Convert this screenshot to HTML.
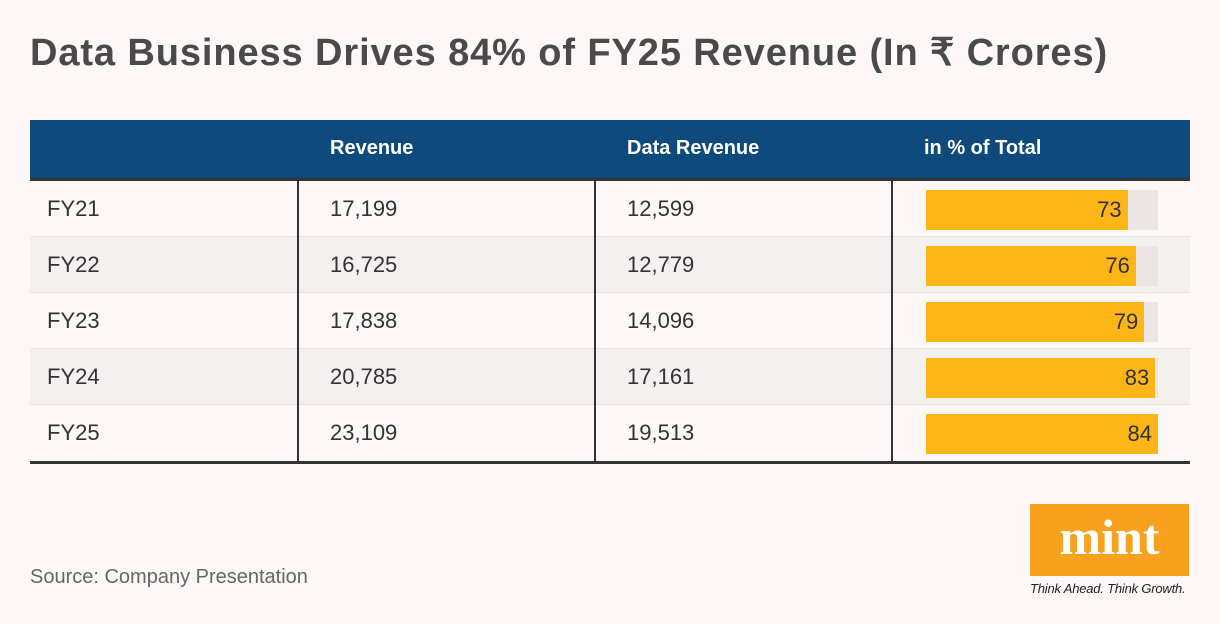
<!DOCTYPE html>
<html><head><meta charset="utf-8">
<style>
body{margin:0;width:1220px;height:624px;background:#fdf8f7;font-family:"Liberation Sans",sans-serif;position:relative;overflow:hidden}
.title{position:absolute;left:30px;top:30px;font-size:38px;font-weight:bold;color:#4a4a4a;letter-spacing:0.9px;white-space:nowrap}
.hdr{position:absolute;left:30px;top:120px;width:1160px;height:58px;background:#0e4b7c}
.hdr span{position:absolute;top:17px;color:#fff;font-weight:bold;font-size:20px}
.topline{position:absolute;left:30px;top:178px;width:1160px;height:3px;background:#333}
.row{position:absolute;left:30px;width:1160px;height:55px}
.row span{position:absolute;top:15px;font-size:22px;color:#333}
.sep{position:absolute;left:30px;width:1160px;height:2px;background:#e6e2e1}
.vl{position:absolute;top:181px;width:2px;height:281px;background:#333}
.bot{position:absolute;left:30px;top:461px;width:1160px;height:3px;background:#333}
.src{position:absolute;left:30px;top:566px;font-size:20px;color:#666}
.logo{position:absolute;left:1030px;top:504px;width:159px;height:72px;background:#f7a11e;color:#fff;font-family:"Liberation Serif",serif;font-weight:bold;font-size:50px;text-align:center;line-height:66px}
.tag{position:absolute;left:1030px;top:581px;font-size:13px;font-style:italic;color:#222;letter-spacing:-0.2px}
</style></head><body>
<div class="title">Data Business Drives 84% of FY25 Revenue (In ₹ Crores)</div>
<div class="hdr">
<span style="left:300px">Revenue</span>
<span style="left:597px">Data Revenue</span>
<span style="left:894px">in % of Total</span>
</div>
<div class="topline"></div>
<div id="rows"></div>
<div class="vl" style="left:297px"></div>
<div class="vl" style="left:594px"></div>
<div class="vl" style="left:891px"></div>
<div class="bot"></div>
<div class="src">Source: Company Presentation</div>
<div class="logo">mint</div>
<div class="tag">Think Ahead. Think Growth.</div>
<script>
const years=["FY21","FY22","FY23","FY24","FY25"];
const revenue=["17,199","16,725","17,838","20,785","23,109"];
const dataRevenue=["12,599","12,779","14,096","17,161","19,513"];
const pct=[73,76,79,83,84];
const c=document.getElementById('rows');
const maxV=Math.max(...pct), trackX=926, trackW=232;
years.forEach((y,i)=>{
  const top=181+i*56;
  const r=document.createElement('div');
  r.className='row';r.style.top=top+'px';
  r.style.background=i%2?'#f4f0ef':'#fdf8f7';
  
  
  r.innerHTML='<span style="left:17px">'+y+'</span><span style="left:300px">'+revenue[i]+'</span><span style="left:597px">'+dataRevenue[i]+'</span>';
  c.appendChild(r);
  if(i<4){const s=document.createElement('div');s.className='sep';s.style.top=(top+55)+'px';c.appendChild(s);}
  const t=document.createElement('div');
  
  
  t.style.cssText='position:absolute;left:'+trackX+'px;top:'+(top+9)+'px;width:'+trackW+'px;height:40px;background:#ebe6e5';
  c.appendChild(t);
  const b=document.createElement('div');
  
  
  const w=pct[i]/maxV*trackW;
  b.style.cssText='position:absolute;left:'+trackX+'px;top:'+(top+9)+'px;width:'+w+'px;height:40px;background:#fdb517;font-size:22px;color:#333;text-align:right;line-height:40px;box-sizing:border-box;padding-right:6px';
  b.textContent=pct[i];
  c.appendChild(b);
});
</script>
</body></html>
